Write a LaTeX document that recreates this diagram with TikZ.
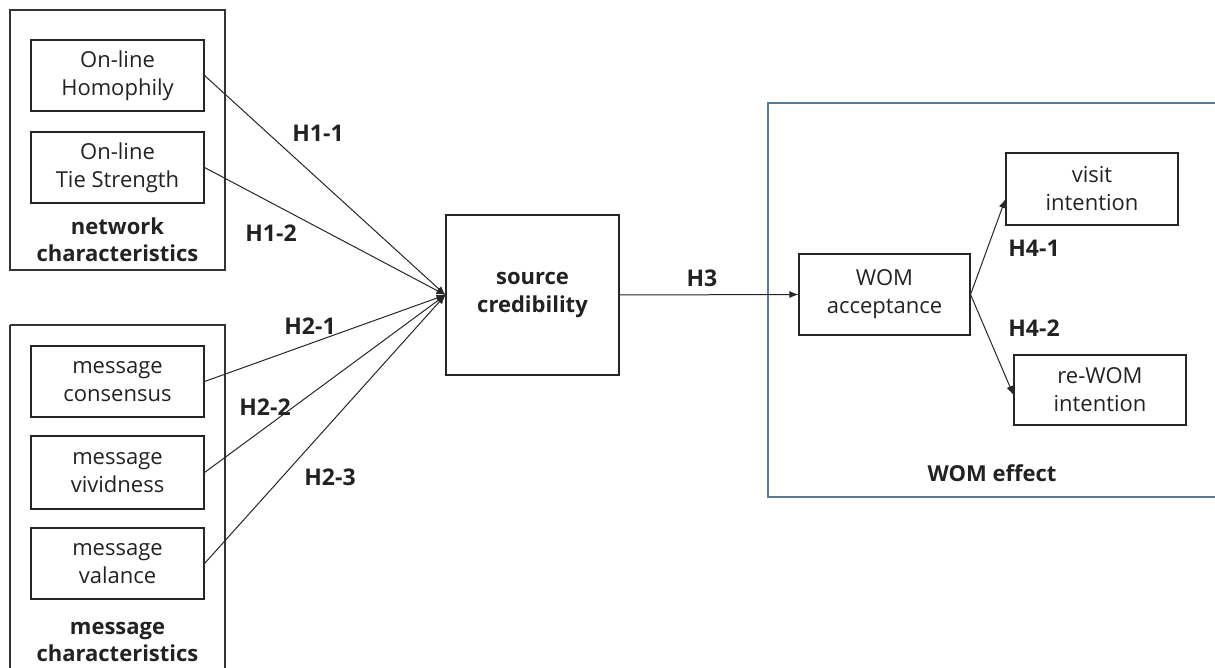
\documentclass[tikz,border=0pt]{standalone}
\usepackage{fontspec}
\setmainfont{Open Sans}
\usetikzlibrary{arrows.meta}
\definecolor{womblue}{HTML}{5B7A96}
\definecolor{txt}{HTML}{222222}
\begin{document}
\begin{tikzpicture}[x=1pt,y=-1pt,
  box/.style={draw=black!85,line width=1.1pt,inner sep=0pt,text=txt,align=center,font=\fontsize{22}{28}\selectfont},
  grp/.style={draw=black!80,line width=1.1pt,inner sep=0pt},
  lbl/.style={text=txt,font=\bfseries\fontsize{22}{27}\selectfont,align=center,inner sep=0pt},
  hlbl/.style={lbl,font=\bfseries\fontsize{23}{27}\selectfont},
  conn/.style={line width=1pt,draw=black!85},
  arr/.style={conn,-{Latex[length=9pt,width=7pt]}}]
\useasboundingbox (0,0) rectangle (1215,668);
% groups
\draw[grp] (10,10) rectangle (225,270);
\draw[grp] (10,325) -- (10,672) (225,672) -- (225,325) -- (10,325);
\draw[womblue,line width=1.1pt] (1218,103) -- (768,103) -- (768,497) -- (1218,497);
% nodes
\node[box,minimum width=173pt,minimum height=71pt] (hom) at (117.5,75.5) {On-line\\Homophily};
\node[box,minimum width=173pt,minimum height=71pt] (tie) at (117.5,167.5) {On-line\\Tie Strength};
\node[lbl] (netl) at (117.5,240) {network\\characteristics};
\node[box,minimum width=173pt,minimum height=71pt] (con) at (117.5,381.5) {message\\consensus};
\node[box,minimum width=173pt,minimum height=73pt] (viv) at (117.5,472.5) {message\\vividness};
\node[box,minimum width=173pt,minimum height=71pt] (val) at (117.5,563.5) {message\\valance};
\node[lbl] (msgl) at (117.5,642) {message\\characteristics};
\node[box,font=\bfseries\fontsize{22}{28}\selectfont,minimum width=173pt,minimum height=160pt] (src) at (532.5,295) {source\\credibility};
\node[box,minimum width=171pt,minimum height=81pt] (wom) at (884.5,294.5) {WOM\\acceptance};
\node[box,minimum width=172pt,minimum height=72pt] (vis) at (1092,189) {visit\\intention};
\node[box,minimum width=172pt,minimum height=70pt] (rew) at (1100,390) {re-WOM\\intention};
\node[lbl] (weff) at (992,473) {WOM effect};
% connectors
\coordinate (tip) at (src.west);
\draw[arr] (hom.east) -- (tip);
\draw[arr] (tie.east) -- (tip);
\draw[arr] (con.east) -- (tip);
\draw[arr] (viv.east) -- (tip);
\draw[arr] (val.east) -- (tip);
\draw[arr] (src.east) -- (wom.west);
\draw[arr] (wom.east) -- ([yshift=-10pt]vis.west);
\draw[arr] (wom.east) -- ([yshift=-5pt]rew.west);
% labels
\node[hlbl] (h11) at (318,133) {H1-1};
\node[hlbl] (h12) at (271,233) {H1-2};
\node[hlbl] (h21) at (310,326) {H2-1};
\node[hlbl] (h22) at (265,407) {H2-2};
\node[hlbl] (h23) at (330,477) {H2-3};
\node[hlbl] (h3) at (702,278) {H3};
\node[hlbl] (h41) at (1034,248) {H4-1};
\node[hlbl] (h42) at (1034,328) {H4-2};
\end{tikzpicture}
\end{document}
